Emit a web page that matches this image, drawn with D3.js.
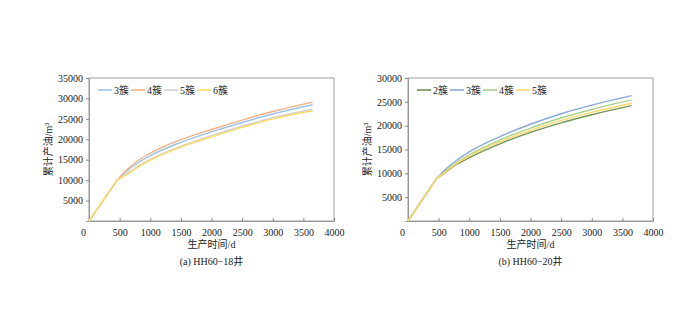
<!DOCTYPE html>
<html>
<head>
<meta charset="utf-8">
<script src="https://cdn.jsdelivr.net/npm/d3@7"></script>
<style>
  body { margin: 0; background: #fff; }
  svg text { font-family: "Liberation Serif", "Noto Sans CJK SC", serif; fill: #222; }
</style>
</head>
<body>
<svg id="chart" width="700" height="314"></svg>
<script>
// production days shared by all curves (index 1 is the end of the straight start)
const days = [0, 460, 600, 800, 1000, 1500, 2000, 2500, 3000, 3650];

// (a) HH60-18 well
const wellA = 'HH60−18井';
const seriesA = ['3簇', '4簇', '5簇', '6簇'];
const colorsA = ['#9dc3e6', '#f4b183', '#d0d0d0', '#ffd966'];
const valuesA = [
  [0, 10000, 12000, 14250, 16000, 19250, 21800, 24100, 26200, 28450],
  [0, 10000, 12300, 14800, 16600, 19900, 22400, 24700, 26800, 29100],
  [0, 10000, 11400, 13400, 15100, 18300, 20900, 23200, 25300, 27300],
  [0, 10000, 11200, 13200, 14900, 18100, 20600, 22900, 25000, 27000]
];
const yTicksA = [5000, 10000, 15000, 20000, 25000, 30000, 35000];

// (b) HH60-20 well
const wellB = 'HH60−20井';
const seriesB = ['2簇', '3簇', '4簇', '5簇'];
const colorsB = ['#6f9456', '#8aa8da', '#a9d18e', '#ffd966'];
const valuesB = [
  [0, 8800, 10100, 11900, 13300, 16200, 18600, 20600, 22300, 24200],
  [0, 8800, 10700, 12800, 14500, 17700, 20300, 22500, 24300, 26300],
  [0, 8800, 10400, 12300, 13900, 17000, 19500, 21600, 23400, 25400],
  [0, 8800, 10200, 12100, 13600, 16600, 19000, 21100, 22800, 24700]
];
const yTicksB = [5000, 10000, 15000, 20000, 25000, 30000];

const xTicks = [0, 500, 1000, 1500, 2000, 2500, 3000, 3500, 4000];

const svg = d3.select('#chart');

function drawPanel(left, yMax, yTicks, names, colors, values, caption, tag) {
  const top = 78, bottom = 221, width = 245;
  const x = d3.scaleLinear().domain([0, 4000]).range([left, left + width]);
  const y = d3.scaleLinear().domain([0, yMax]).range([bottom, top]);
  const g = svg.append('g');

  // frame
  g.append('rect')
    .attr('x', left).attr('y', top)
    .attr('width', width).attr('height', bottom - top)
    .attr('fill', 'none').attr('stroke', '#888').attr('stroke-width', 0.8);

  const xAxis = g.append('g')
    .attr('transform', `translate(0,${bottom})`)
    .call(d3.axisBottom(x).tickValues(xTicks).tickSizeInner(-3).tickSizeOuter(0).tickPadding(8).tickFormat(d3.format('d')));
  const yAxis = g.append('g')
    .attr('transform', `translate(${left},0)`)
    .call(d3.axisLeft(y).tickValues(yTicks).tickSize(3).tickFormat(d3.format('d')));
  [xAxis, yAxis].forEach(a => {
    a.select('.domain').attr('stroke', '#888').attr('stroke-width', 0.8);
    a.selectAll('.tick line').attr('stroke', '#888');
    a.selectAll('text').style('font-size', '10px').attr('fill', '#222');
  });
  // the zero label sits a little left of the origin
  xAxis.selectAll('.tick text').filter(d => d === 0).attr('dx', -6);

  const curve = d3.line()
    .x(d => x(d[0]))
    .y(d => y(d[1]))
    .curve(d3.curveMonotoneX);

  values.forEach((v, i) => {
    const pts = v.map((val, j) => [days[j], val]);
    // straight start, then a smooth bend from the knee onwards
    const d = `M${x(pts[0][0])},${y(pts[0][1])}L` + curve(pts.slice(1)).slice(1);
    g.append('path')
      .attr('d', d)
      .attr('fill', 'none')
      .attr('stroke', colors[i])
      .attr('stroke-width', 1.4);
  });

  // legend
  const legend = g.append('g').attr('transform', `translate(${left + 9},${top + 12})`);
  names.forEach((n, i) => {
    const row = legend.append('g').attr('transform', `translate(${i * 33},0)`);
    row.append('line').attr('x1', 0).attr('x2', 14).attr('y1', 0).attr('y2', 0)
      .attr('stroke', colors[i]).attr('stroke-width', 1.6);
    row.append('text').attr('x', 16).attr('y', 3.5)
      .style('font-size', '10px').text(n);
  });

  // axis titles
  g.append('text')
    .attr('transform', `translate(${left - 37},${(top + bottom) / 2}) rotate(-90)`)
    .attr('text-anchor', 'middle')
    .style('font-size', '10px')
    .text('累计产油/m³');
  g.append('text')
    .attr('x', left + width / 2).attr('y', 248)
    .attr('text-anchor', 'middle')
    .style('font-size', '10px')
    .text('生产时间/d');
  g.append('text')
    .attr('x', left + width / 2).attr('y', 265)
    .attr('text-anchor', 'middle')
    .style('font-size', '10px')
    .text(`(${tag})  ${caption}`);
}

drawPanel(89, 35000, yTicksA, seriesA, colorsA, valuesA, wellA, 'a');
drawPanel(408, 30000, yTicksB, seriesB, colorsB, valuesB, wellB, 'b');
</script>
</body>
</html>
